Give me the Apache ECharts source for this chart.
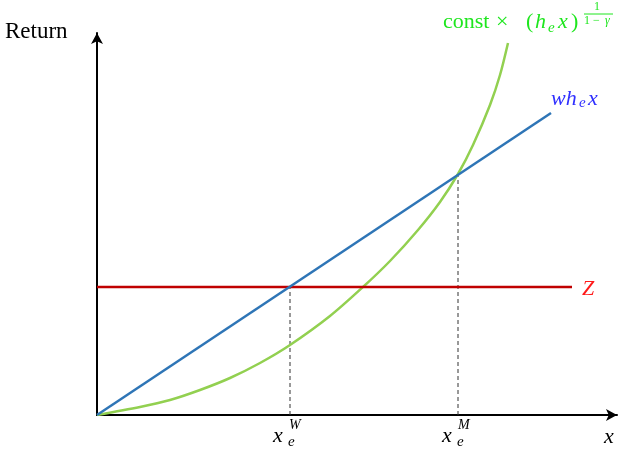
<!DOCTYPE html>
<html><head><meta charset="utf-8">
<script src="https://cdn.jsdelivr.net/npm/echarts@6/dist/echarts.min.js"></script>
<style>html,body{margin:0;padding:0;background:#fff}#c{width:619px;height:450px}</style>
</head><body><div id="c"></div>
<script>
// data (x in "effort" units, y in "return" units)
var blueX = [0, 4.54];
var blueY = [0, 3.02];
var redX = [0, 4.75];
var redY = [1.28, 1.28];
var greenX = [0, 0.43, 0.73, 1.03, 1.33, 1.63, 1.93, 2.33, 2.66, 2.93, 3.21, 3.43, 3.61, 3.76, 3.93, 4.03, 4.11];
var greenY = [0, 0.08, 0.15, 0.25, 0.37, 0.52, 0.70, 0.99, 1.28, 1.54, 1.85, 2.13, 2.41, 2.70, 3.10, 3.40, 3.72];
var xW = 1.93, yW = 1.28;
var xM = 3.61, yM = 2.41;

function zip(a, b) { return a.map(function (v, i) { return [v, b[i]]; }); }

var chart = echarts.init(document.getElementById('c'), null, {renderer: 'canvas'});
var serif = '"Liberation Serif", "DejaVu Serif", serif';
var axisCommon = {
  type: 'value', min: 0,
  axisLine: {show: true, symbol: ['none', 'arrow'], symbolSize: [9, 11], lineStyle: {color: '#000', width: 2}},
  axisTick: {show: false}, axisLabel: {show: false}, splitLine: {show: false}
};
// text helper: place text so its baseline lands at y (approx)
function T(x, base, txt, size, color, italic) {
  return {type: 'text', left: x, top: Math.round(base - 0.84 * size),
    style: {text: txt, font: (italic ? 'italic ' : '') + size + 'px ' + serif, fill: color}};
}
var G = '#1ee61e', B = '#3030ff', R = '#ff1a1a', K = '#000';
chart.setOption({
  animation: false,
  backgroundColor: '#fff',
  grid: {left: 97, top: 33, width: 520, height: 382},
  xAxis: Object.assign({}, axisCommon, {max: 5.20}),
  yAxis: Object.assign({}, axisCommon, {max: 3.82}),
  series: [
    {type: 'line', data: [[xW, 0], [xW, yW]], symbol: 'none', lineStyle: {color: '#333', width: 1, type: [4, 3]}, z: 1},
    {type: 'line', data: [[xM, 0], [xM, yM]], symbol: 'none', lineStyle: {color: '#333', width: 1, type: [4, 3]}, z: 1},
    {type: 'line', data: zip(greenX, greenY), smooth: 0.3, symbol: 'none', lineStyle: {color: '#92d050', width: 2.5}, z: 2},
    {type: 'line', data: zip(redX, redY), symbol: 'none', lineStyle: {color: '#c00000', width: 2.5}, z: 3},
    {type: 'line', data: zip(blueX, blueY), symbol: 'none', lineStyle: {color: '#2e75b6', width: 2.5}, z: 4}
  ],
  graphic: [
    T(5, 39, 'Return', 23, K, false),
    // const × (h_e x)^{1/(1-γ)}
    T(443, 29, 'const', 22, G, false),
    T(496, 29, '×', 22, G, false),
    T(526, 29, '(', 22, G, false),
    T(535, 29, 'h', 22, G, true),
    T(548, 34, 'e', 15, G, true),
    T(558, 29, 'x', 22, G, true),
    T(571, 29, ')', 22, G, false),
    T(594, 11, '1', 12, G, false),
    {type: 'line', shape: {x1: 584, y1: 14, x2: 613, y2: 14}, style: {stroke: G, lineWidth: 1}},
    T(584, 25, '1 − ', 12, G, false),
    T(605, 25, 'γ', 12, G, true),
    // w h_e x
    T(551, 106, 'wh', 22, B, true),
    T(579, 109, 'e', 15, B, true),
    T(588, 106, 'x', 22, B, true),
    // Z
    T(582, 296, 'Z', 22, R, true),
    // axis label x
    T(604, 444, 'x', 22, K, true),
    // x_e^W
    T(273, 443, 'x', 22, K, true),
    T(288, 448, 'e', 15, K, true),
    T(289, 430, 'W', 14, K, true),
    // x_e^M
    T(442, 443, 'x', 22, K, true),
    T(457, 448, 'e', 15, K, true),
    T(458, 430, 'M', 14, K, true)
  ]
});
</script></body></html>
